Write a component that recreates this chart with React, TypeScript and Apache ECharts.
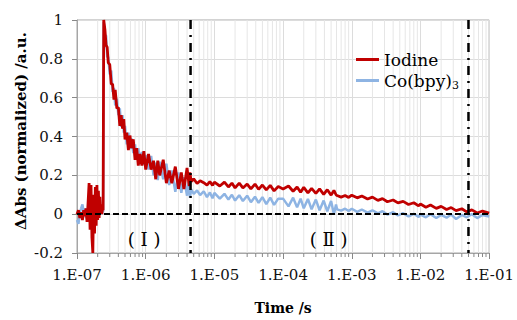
import React, { useEffect, useRef } from 'react';
import * as echarts from 'echarts';

// ---- time grid (s), per decade ----
const t7 = [1.00e-7, 1.05e-7, 1.10e-7, 1.15e-7, 1.20e-7, 1.25e-7, 1.30e-7, 1.35e-7, 1.40e-7, 1.45e-7,
  1.50e-7, 1.55e-7, 1.60e-7, 1.65e-7, 1.70e-7, 1.75e-7, 1.80e-7, 1.85e-7, 1.90e-7, 1.95e-7,
  2.00e-7, 2.05e-7, 2.10e-7, 2.15e-7, 2.20e-7, 2.25e-7, 2.30e-7, 2.35e-7, 2.40e-7, 2.45e-7,
  2.55e-7, 2.65e-7, 2.75e-7, 2.85e-7, 3.00e-7, 3.15e-7, 3.30e-7, 3.45e-7, 3.60e-7, 3.80e-7,
  4.00e-7, 4.20e-7, 4.40e-7, 4.60e-7, 4.80e-7, 5.00e-7, 5.30e-7, 5.60e-7, 5.90e-7, 6.20e-7,
  6.60e-7, 7.00e-7, 7.40e-7, 7.80e-7, 8.30e-7, 8.80e-7, 9.40e-7];
const t6 = [1.0e-6, 1.1e-6, 1.2e-6, 1.3e-6, 1.4e-6, 1.5e-6, 1.6e-6, 1.8e-6, 2.0e-6, 2.2e-6, 2.4e-6, 2.7e-6, 3.0e-6,
  3.3e-6, 3.6e-6, 4.0e-6, 4.3e-6, 4.4e-6, 4.6e-6, 5.0e-6, 5.6e-6, 6.2e-6, 7.0e-6, 7.8e-6, 8.6e-6, 9.4e-6];
const t5 = [1.0e-5, 1.2e-5, 1.4e-5, 1.6e-5, 1.8e-5, 2.0e-5, 2.3e-5, 2.6e-5, 3.0e-5, 3.4e-5, 3.9e-5, 4.4e-5,
  5.0e-5, 5.7e-5, 6.5e-5, 7.4e-5, 8.5e-5];
const t4 = [1.0e-4, 1.2e-4, 1.4e-4, 1.6e-4, 1.8e-4, 2.0e-4, 2.3e-4, 2.6e-4, 3.0e-4, 3.4e-4, 3.9e-4, 4.4e-4,
  5.0e-4, 5.5e-4, 5.9e-4, 6.1e-4, 7.0e-4, 8.0e-4, 9.0e-4];
const t3 = [1.0e-3, 1.2e-3, 1.4e-3, 1.7e-3, 2.0e-3, 2.4e-3, 2.8e-3, 3.3e-3, 4.0e-3, 4.7e-3, 5.6e-3, 6.7e-3, 8.0e-3, 9.4e-3];
const t2 = [1.0e-2, 1.2e-2, 1.4e-2, 1.7e-2, 2.0e-2, 2.4e-2, 2.8e-2, 3.3e-2, 4.0e-2, 4.7e-2, 5.6e-2, 6.7e-2, 8.0e-2, 1.0e-1];

// ---- Iodine (normalized ΔAbs) ----
const iodine7 = [0.00, 0.02, -0.02, 0.01, -0.03, 0.02, -0.01, 0.03, -0.04, 0.06,
  0.16, -0.08, 0.15, -0.12, -0.20, 0.10, -0.10, 0.14, -0.06, 0.15,
  -0.03, 0.12, -0.02, 0.09, 0.01, 0.05, 0.00, 0.03, 0.02, 1.00,
  0.95, 0.87, 0.86, 0.78, 0.77, 0.67, 0.67, 0.59, 0.64, 0.545,
  0.55, 0.455, 0.51, 0.44, 0.49, 0.385, 0.42, 0.33, 0.405, 0.34,
  0.385, 0.28, 0.34, 0.25, 0.31, 0.25, 0.325];
const iodine6 = [0.23, 0.31, 0.23, 0.275, 0.18, 0.275, 0.20, 0.28, 0.16, 0.225, 0.16, 0.245, 0.13, 0.215, 0.13, 0.238, 0.145, 0.215,
  0.168, 0.182, 0.158, 0.172, 0.162, 0.150, 0.168, 0.148];
const iodine5 = [0.165, 0.145, 0.165, 0.14, 0.16, 0.135, 0.16, 0.135, 0.155, 0.13, 0.155, 0.128, 0.15, 0.125, 0.148, 0.12, 0.142];
const iodine4 = [0.13, 0.145, 0.118, 0.14, 0.113, 0.138, 0.11, 0.133, 0.107, 0.13, 0.102, 0.126, 0.098, 0.122, 0.10,
  0.096, 0.088, 0.096, 0.086];
const iodine3 = [0.098, 0.084, 0.094, 0.078, 0.088, 0.071, 0.08, 0.064, 0.073, 0.058, 0.066, 0.05, 0.059, 0.043];
const iodine2 = [0.052, 0.036, 0.047, 0.03, 0.04, 0.024, 0.034, 0.018, 0.028, 0.012, 0.022, 0.006, 0.016, 0.005];

// ---- Co(bpy)3 (normalized ΔAbs) ----
const cobpy7 = [-0.03, -0.05, 0.01, 0.03, 0.05, 0.01, 0.03, -0.02, 0.02, -0.03,
  0.05, -0.04, 0.06, -0.05, 0.03, -0.06, 0.05, -0.03, 0.04, -0.02,
  0.03, -0.01, 0.02, 0.00, 0.02, 0.01, 0.00, 0.02, 0.01, 0.99,
  0.92, 0.92, 0.81, 0.81, 0.72, 0.74, 0.63, 0.65, 0.56, 0.595,
  0.51, 0.545, 0.45, 0.51, 0.42, 0.455, 0.36, 0.42, 0.335, 0.39,
  0.315, 0.36, 0.28, 0.34, 0.27, 0.32, 0.255];
const cobpy6 = [0.305, 0.23, 0.30, 0.20, 0.265, 0.175, 0.27, 0.18, 0.26, 0.15, 0.225, 0.115, 0.215, 0.11, 0.19, 0.095, 0.19, 0.085,
  0.128, 0.105, 0.122, 0.098, 0.118, 0.088, 0.112, 0.082];
const cobpy5 = [0.11, 0.08, 0.105, 0.075, 0.10, 0.07, 0.098, 0.068, 0.095, 0.062, 0.09, 0.058, 0.088, 0.052, 0.085, 0.048, 0.08];
const cobpy4 = [0.08, 0.04, 0.085, 0.035, 0.08, 0.03, 0.078, 0.025, 0.075, 0.02, 0.07, 0.015, 0.068, 0.0, 0.05,
  0.025, 0.018, 0.028, 0.016];
const cobpy3 = [0.028, 0.012, 0.024, 0.008, 0.02, 0.004, 0.015, -0.002, 0.01, -0.006, 0.005, -0.012, 0.002, -0.014];
const cobpy2 = [-0.002, -0.016, 0.0, -0.02, -0.004, -0.018, -0.002, -0.025, -0.004, -0.016, 0.0, -0.02, -0.004, -0.012];

const times = [...t7, ...t6, ...t5, ...t4, ...t3, ...t2];
const iodine = [...iodine7, ...iodine6, ...iodine5, ...iodine4, ...iodine3, ...iodine2];
const cobpy = [...cobpy7, ...cobpy6, ...cobpy5, ...cobpy4, ...cobpy3, ...cobpy2];

// ---- axes / annotations ----
const xTickLabels = ['1.E-07', '1.E-06', '1.E-05', '1.E-04', '1.E-03', '1.E-02', '1.E-01'];
const decades = [-7, -6, -5, -4, -3, -2];
const minorMultipliers = [2, 3, 4, 5, 6, 7, 8, 9];
const minorTimes = decades.flatMap((d) => minorMultipliers.map((k) => k * Math.pow(10, d)));
const phaseBoundaries = [4.5e-6, 5e-2];
const regionLabels = ['( Ⅰ )', '( Ⅱ )'];
const regionTimes = [9.5e-7, 4.6e-4];
const regionValues = [-0.133, -0.133];
const X_MIN = 1e-7;
const X_MAX = 1e-1;
const Y_MIN = -0.2;
const Y_MAX = 1;

const SERIF = 'DejaVu Serif';
const RED = '#C00000';
const BLUE = '#8EB4E3';

export default function App() {
  const ref = useRef<HTMLDivElement>(null);

  useEffect(() => {
    if (!ref.current) return;
    const chart = echarts.init(ref.current, null, { renderer: 'svg' });
    chart.setOption({
      animation: false,
      grid: { left: 77, right: 26, top: 20, bottom: 58, show: true, borderColor: '#a6a6a6', borderWidth: 1, backgroundColor: 'transparent' },
      legend: {
        data: ['Iodine', 'Co(bpy)3'],
        orient: 'vertical',
        left: 351,
        top: 46,
        itemGap: 4,
        itemWidth: 23,
        itemHeight: 3,
        icon: 'rect',
        selectedMode: false,
        textStyle: {
          fontFamily: SERIF,
          fontSize: 17,
          color: '#000',
          rich: { sub: { fontFamily: SERIF, fontSize: 11, color: '#000', padding: [9, 0, 0, 0] } },
        },
        formatter: (name: string) => (name === 'Co(bpy)3' ? 'Co(bpy){sub|3}' : name),
      },
      xAxis: {
        type: 'log',
        logBase: 10,
        min: X_MIN,
        max: X_MAX,
        splitNumber: 6,
        name: 'Time /s',
        nameLocation: 'middle',
        nameGap: 48,
        nameTextStyle: { fontFamily: SERIF, fontSize: 14, fontWeight: 'bold', color: '#000' },
        axisLine: { show: true, onZero: false, lineStyle: { color: '#a6a6a6', width: 1 } },
        axisTick: { show: true, length: 6, lineStyle: { color: '#888' } },
        axisLabel: {
          fontFamily: SERIF,
          fontSize: 15,
          color: '#111',
          margin: 14,
          formatter: (v: number) => xTickLabels[Math.round(Math.log10(v)) + 7] ?? '',
        },
        splitLine: { show: true, lineStyle: { color: '#dcdcdc', width: 1 } },
      },
      yAxis: {
        type: 'value',
        min: Y_MIN,
        max: Y_MAX,
        interval: 0.2,
        axisLine: { show: true, onZero: false, lineStyle: { color: '#a6a6a6', width: 1 } },
        axisTick: { show: true, length: 5, lineStyle: { color: '#888' } },
        axisLabel: { fontFamily: SERIF, fontSize: 15, color: '#111', margin: 14 },
        splitLine: { show: true, lineStyle: { color: '#dcdcdc', width: 1 } },
      },
      graphic: [
        {
          type: 'text',
          x: 21,
          y: 131,
          rotation: Math.PI / 2,
          style: {
            text: 'ΔAbs (normalized) /a.u.',
            fontFamily: SERIF,
            fontWeight: 'bold',
            fontSize: 15,
            fill: '#000',
            align: 'center',
            verticalAlign: 'middle',
          },
        },
      ],
      series: [
        {
          type: 'custom',
          name: 'minorGrid',
          silent: true,
          z: 1,
          data: minorTimes.map((t) => [t, 0]),
          encode: { x: 0, y: 1 },
          renderItem: (params: any, api: any) => {
            const t = api.value(0);
            const top = api.coord([t, Y_MAX]);
            const bot = api.coord([t, Y_MIN]);
            return {
              type: 'group',
              children: [
                { type: 'line', shape: { x1: top[0], y1: top[1], x2: bot[0], y2: bot[1] }, style: { stroke: '#e6e6e6', lineWidth: 1 } },
                { type: 'line', shape: { x1: bot[0], y1: bot[1], x2: bot[0], y2: bot[1] + 4 }, style: { stroke: '#888', lineWidth: 1 } },
              ],
            };
          },
        },
        {
          name: 'Co(bpy)3',
          type: 'line',
          z: 2,
          symbol: 'none',
          data: times.map((t, i) => [t, cobpy[i]]),
          lineStyle: { color: BLUE, width: 2.5 },
          itemStyle: { color: BLUE },
        },
        {
          name: 'Iodine',
          type: 'line',
          z: 3,
          symbol: 'none',
          data: times.map((t, i) => [t, iodine[i]]),
          lineStyle: { color: RED, width: 2.8 },
          itemStyle: { color: RED },
          markLine: {
            silent: true,
            symbol: ['none', 'none'],
            label: { show: false },
            data: [{ yAxis: 0, lineStyle: { type: [6, 3], color: '#000', width: 2 } }],
          },
          markPoint: {
            silent: true,
            symbol: 'rect',
            symbolSize: 1,
            itemStyle: { color: 'rgba(0,0,0,0)' },
            label: { show: true, position: 'inside', formatter: '{b}', fontFamily: SERIF, fontSize: 18, color: '#000' },
            data: regionLabels.map((name, i) => ({ name, coord: [regionTimes[i], regionValues[i]] })),
          },
        },
        {
          type: 'custom',
          name: 'phaseBoundary',
          silent: true,
          z: 4,
          data: phaseBoundaries.map((t) => [t, 0]),
          encode: { x: 0, y: 1 },
          renderItem: (params: any, api: any) => {
            const t = api.value(0);
            const top = api.coord([t, Y_MAX]);
            const bot = api.coord([t, Y_MIN]);
            return {
              type: 'line',
              shape: { x1: top[0], y1: top[1], x2: bot[0], y2: bot[1] },
              style: { stroke: '#000', lineWidth: 2.5, lineDash: [9, 6, 2, 6] },
            };
          },
        },
      ],
    });
    return () => chart.dispose();
  }, []);

  return <div ref={ref} style={{ position: 'absolute', left: 0, top: 0, width: 517, height: 320 }} />;
}
